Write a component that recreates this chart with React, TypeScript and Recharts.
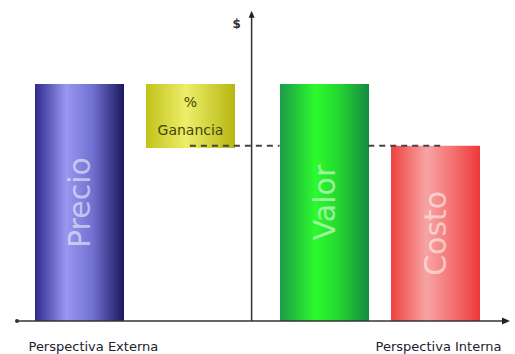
import { BarChart, Bar, XAxis, YAxis, Cell, LabelList, ReferenceLine } from 'recharts';

// Dos perspectivas, cada una con dos barras
const groups = ['Perspectiva Externa', 'Perspectiva Interna'];
const firstNames = ['Precio', 'Valor'];
const firstValues = [100, 100];
const secondNames = ['% Ganancia', 'Costo'];
const secondLow = [73, 0];
const secondHigh = [100, 74];

const data = groups.map((g, i) => ({
  group: g,
  first: firstValues[i],
  second: [secondLow[i], secondHigh[i]],
  firstName: firstNames[i],
  secondName: secondNames[i],
}));

const FONT = '"DejaVu Sans", Verdana, sans-serif';

const BarName = (props: any) => {
  const vb = props.viewBox || {};
  const x = props.x ?? vb.x;
  const y = props.y ?? vb.y;
  const width = props.width ?? vb.width;
  const height = props.height ?? vb.height;
  const value = String(props.value);
  const cx = x + width / 2;
  const cy = y + height / 2;
  if (value.startsWith('%')) {
    const [pct, word] = value.split(' ');
    return (
      <g fontFamily={FONT} fontSize={14} fill="#44440e" textAnchor="middle">
        <text x={cx} y={cy - 14} dominantBaseline="central">{pct}</text>
        <text x={cx} y={cy + 14} dominantBaseline="central">{word}</text>
      </g>
    );
  }
  return (
    <text
      x={cx}
      y={cy}
      transform={`rotate(-90 ${cx} ${cy})`}
      textAnchor="middle"
      dominantBaseline="central"
      fontFamily={FONT}
      fontSize={30}
      fill="#ffffff"
      fillOpacity={0.55}
    >
      {value}
    </text>
  );
};

const GroupTick = (props: any) => {
  const { x, y, payload, index } = props;
  const first = index === 0;
  return (
    <text
      x={first ? x - 106 : x + 122}
      y={y + 25}
      textAnchor={first ? 'start' : 'end'}
      dominantBaseline="central"
      fontFamily={FONT}
      fontSize={13}
      fill="#22222f"
    >
      {payload.value}
    </text>
  );
};

const HAxis = (p: any) => (
  <g>
    <line x1={p.x1} y1={p.y1} x2={p.x2 - 4} y2={p.y2} stroke="#333" strokeWidth={1.5} />
    <circle cx={p.x1} cy={p.y1} r={2} fill="#333" />
    <path d={`M${p.x2} ${p.y2} l-8 -3.5 v7 z`} fill="#222" />
  </g>
);

const VAxis = (p: any) => (
  <g>
    <line x1={p.x1} y1={p.y1} x2={p.x2} y2={p.y2 + 4} stroke="#333" strokeWidth={1.5} />
    <path d={`M${p.x2} ${p.y2 - 1} l-3 7 h6 z`} fill="#222" />
    <text x={p.x2 - 15} y={p.y2 + 12} textAnchor="middle" dominantBaseline="central" fontFamily={FONT} fontSize={12} fontWeight="bold" fill="#333">
      $
    </text>
  </g>
);

const firstFills = ['url(#gPrecio)', 'url(#gValor)'];
const secondFills = ['url(#gGanancia)', 'url(#gCosto)'];

export default function App() {
  return (
    <div style={{ position: 'absolute', left: 0, top: 0, background: '#fff' }}>
      <BarChart width={515} height={354} data={data} margin={{ top: 13, right: 13, bottom: 0, left: 12 }} barSize={89} barGap={22}>
        <defs>
          <linearGradient id="gPrecio" x1="0" y1="0" x2="1" y2="0">
            <stop offset="0%" stopColor="#2e2a8c" />
            <stop offset="35%" stopColor="#9898f2" />
            <stop offset="65%" stopColor="#7070d0" />
            <stop offset="100%" stopColor="#1b185e" />
          </linearGradient>
          <linearGradient id="gValor" x1="0" y1="0" x2="1" y2="0">
            <stop offset="0%" stopColor="#1d9a48" />
            <stop offset="40%" stopColor="#2cfb2c" />
            <stop offset="65%" stopColor="#25d830" />
            <stop offset="100%" stopColor="#158a42" />
          </linearGradient>
          <linearGradient id="gCosto" x1="0" y1="0" x2="1" y2="0">
            <stop offset="0%" stopColor="#ee4040" />
            <stop offset="40%" stopColor="#f7a4a4" />
            <stop offset="70%" stopColor="#f47070" />
            <stop offset="100%" stopColor="#ee3838" />
          </linearGradient>
          <linearGradient id="gGanancia" x1="0" y1="0" x2="1" y2="0">
            <stop offset="0%" stopColor="#c2c21a" />
            <stop offset="45%" stopColor="#eeee6a" />
            <stop offset="100%" stopColor="#b6b612" />
          </linearGradient>
        </defs>
        <XAxis dataKey="group" axisLine={false} tickLine={false} tickSize={0} tickMargin={0} height={33} tick={<GroupTick />} interval={0} />
        <XAxis xAxisId="f" type="number" domain={[0, 1]} hide />
        <YAxis hide domain={[0, 130]} />
        <Bar dataKey="first" isAnimationActive={false}>
          {data.map((d, i) => (
            <Cell key={d.group} fill={firstFills[i]} />
          ))}
          <LabelList dataKey="firstName" content={<BarName />} />
        </Bar>
        <Bar dataKey="second" isAnimationActive={false}>
          {data.map((d, i) => (
            <Cell key={d.group} fill={secondFills[i]} />
          ))}
          <LabelList dataKey="secondName" content={<BarName />} />
        </Bar>
        <ReferenceLine xAxisId="f" ifOverflow="visible" segment={[{ x: 0.363, y: secondHigh[1] }, { x: 0.546, y: secondHigh[1] }]} stroke="#444" strokeWidth={2} strokeDasharray="6 5" />
        <ReferenceLine xAxisId="f" ifOverflow="visible" segment={[{ x: 0.727, y: secondHigh[1] }, { x: 0.88, y: secondHigh[1] }]} stroke="#444" strokeWidth={2} strokeDasharray="6 5" />
        <ReferenceLine xAxisId="f" ifOverflow="visible" segment={[{ x: 0.0102, y: 0 }, { x: 1.0163, y: 0 }]} shape={<HAxis />} />
        <ReferenceLine xAxisId="f" ifOverflow="visible" segment={[{ x: 0.489, y: 0 }, { x: 0.489, y: 130.5 }]} shape={<VAxis />} />
      </BarChart>
    </div>
  );
}
